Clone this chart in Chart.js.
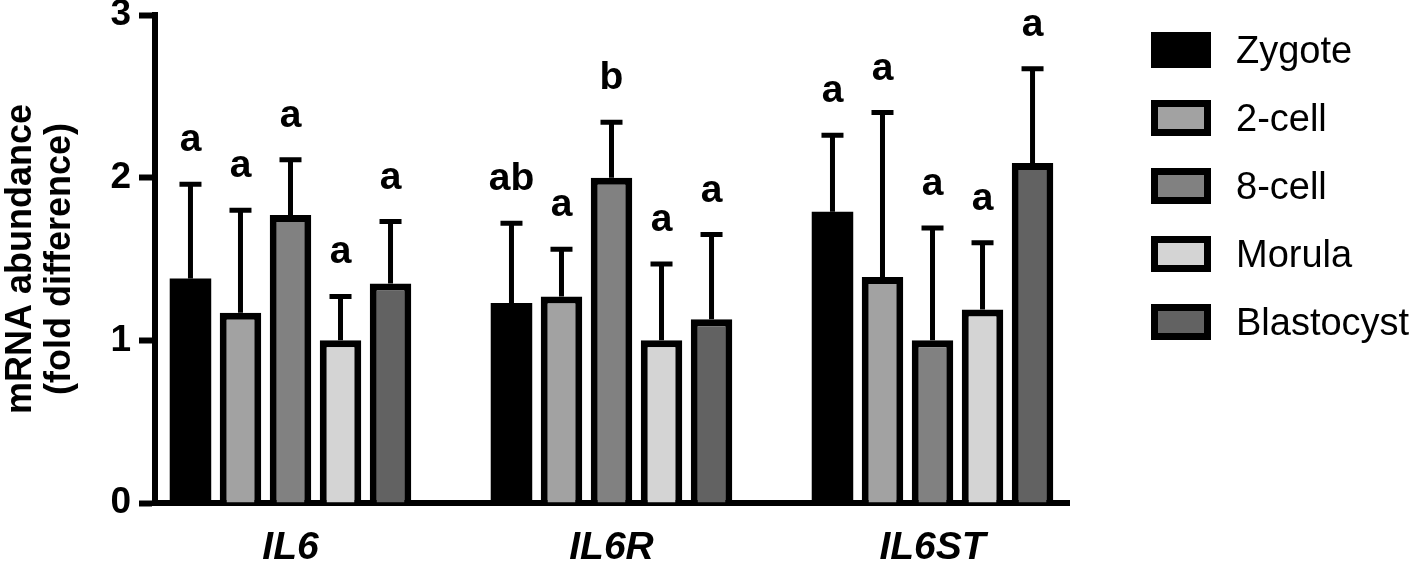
<!DOCTYPE html>
<html>
<head>
<meta charset="utf-8">
<title>IL6 family mRNA abundance</title>
<script src="https://cdn.jsdelivr.net/npm/chart.js@4.4.1/dist/chart.umd.min.js"></script>
<style>
  html, body { margin: 0; padding: 0; background: #fff; }
  #chart { display: block; }
</style>
</head>
<body>
<canvas id="chart" width="1418" height="565"></canvas>
<script>
// genes on the x axis, embryo stages as series
const genes = ['IL6', 'IL6R', 'IL6ST'];
const stages = ['Zygote', '2-cell', '8-cell', 'Morula', 'Blastocyst'];
const stageColors = ['#000000', '#a2a2a2', '#818181', '#d4d4d4', '#626262'];

// mean fold difference per gene
const zygote = [1.38, 1.23, 1.79];
const twoCell = [1.17, 1.27, 1.39];
const eightCell = [1.77, 2.00, 1.00];
const morula = [1.00, 1.00, 1.19];
const blastocyst = [1.35, 1.13, 2.09];

// upper error (SD) per gene
const zygoteErr = [0.58, 0.49, 0.47];
const twoCellErr = [0.63, 0.29, 1.01];
const eightCellErr = [0.34, 0.34, 0.69];
const morulaErr = [0.27, 0.47, 0.41];
const blastocystErr = [0.38, 0.52, 0.58];

// letters of significance
const zygoteSig = ['a', 'ab', 'a'];
const twoCellSig = ['a', 'a', 'a'];
const eightCellSig = ['a', 'b', 'a'];
const morulaSig = ['a', 'a', 'a'];
const blastocystSig = ['a', 'a', 'a'];

const yTicks = [0, 1, 2, 3];

const means = [zygote, twoCell, eightCell, morula, blastocyst];
const errs = [zygoteErr, twoCellErr, eightCellErr, morulaErr, blastocystErr];
const sigs = [zygoteSig, twoCellSig, eightCellSig, morulaSig, blastocystSig];

const FONT = '"Liberation Sans", Arial, Helvetica, sans-serif';
Chart.defaults.font.family = FONT;
Chart.defaults.color = '#000';

const datasets = stages.map((name, s) => ({
  label: name,
  data: means[s].map((v, i) => ({ x: i, y: v })),
  err: errs[s],
  sig: sigs[s],
  backgroundColor: stageColors[s],
  borderColor: '#000',
  // the black bar needs no frame, it would only leave a seam
  borderWidth: s === 0 ? 0 : 7,
  borderSkipped: 'start',
  categoryPercentage: 0.779,
  barPercentage: 0.83
}));

// error bars and letters, drawn from the y scale
const errorBars = {
  id: 'errorBars',
  afterDatasetsDraw(chart) {
    const ctx = chart.ctx;
    const y = chart.scales.y;
    ctx.save();
    chart.data.datasets.forEach((ds, di) => {
      const meta = chart.getDatasetMeta(di);
      meta.data.forEach((bar, i) => {
        const top = y.getPixelForValue(ds.data[i].y + ds.err[i]);
        ctx.strokeStyle = '#000';
        ctx.lineWidth = 5;
        ctx.lineCap = 'butt';
        ctx.beginPath();
        ctx.moveTo(bar.x, bar.y);
        ctx.lineTo(bar.x, top);
        ctx.moveTo(bar.x - 11, top);
        ctx.lineTo(bar.x + 11, top);
        ctx.stroke();
        ctx.fillStyle = '#000';
        ctx.font = 'bold 39px ' + FONT;
        ctx.textAlign = 'center';
        ctx.textBaseline = 'alphabetic';
        ctx.fillText(ds.sig[i], bar.x, top - 33);
      });
    });
    ctx.restore();
  }
};

// legend at the right, boxes with thick black frame
const sideLegend = {
  id: 'sideLegend',
  afterDraw(chart) {
    const ctx = chart.ctx;
    const x0 = chart.chartArea.right + 82;
    const y0 = chart.chartArea.top + 17;
    ctx.save();
    chart.data.datasets.forEach((ds, i) => {
      const y = y0 + i * 68;
      ctx.fillStyle = '#000';
      ctx.fillRect(x0, y, 60, 36);
      ctx.fillStyle = ds.backgroundColor;
      ctx.fillRect(x0 + 7, y + 7, 46, 22);
      ctx.fillStyle = '#000';
      ctx.font = '38px ' + FONT;
      ctx.textAlign = 'left';
      ctx.textBaseline = 'alphabetic';
      ctx.fillText(ds.label, x0 + 85, y + 31);
    });
    ctx.restore();
  }
};

new Chart(document.getElementById('chart'), {
  type: 'bar',
  data: { datasets },
  plugins: [errorBars, sideLegend],
  options: {
    responsive: false,
    animation: false,
    devicePixelRatio: 1,
    layout: { padding: { top: 15, right: 349, bottom: 0, left: 0 } },
    plugins: {
      legend: { display: false },
      tooltip: { enabled: false }
    },
    scales: {
      x: {
        type: 'linear',
        offset: false,
        min: -0.4221,
        max: 2.4252,
        afterBuildTicks(scale) {
          scale.ticks = genes.map((g, i) => ({ value: i }));
        },
        afterFit(scale) {
          scale.height = 62;
          scale.paddingLeft = 0;
          scale.paddingRight = 0;
        },
        grid: { display: false, drawTicks: false },
        border: { display: true, color: '#000', width: 6 },
        ticks: {
          autoSkip: false,
          maxRotation: 0,
          padding: 22,
          font: { size: 39, weight: 'bold', style: 'italic' },
          callback: (v) => genes[v]
        }
      },
      y: {
        min: 0,
        max: 3,
        afterBuildTicks(scale) {
          scale.ticks = yTicks.map(v => ({ value: v }));
        },
        afterFit(scale) {
          scale.width = 155;
          scale.paddingTop = 0;
          scale.paddingBottom = 0;
        },
        grid: {
          drawOnChartArea: false,
          drawTicks: true,
          tickLength: 16,
          tickWidth: 6,
          tickColor: '#000'
        },
        border: { display: true, color: '#000', width: 6 },
        ticks: {
          padding: 8,
          font: { size: 37, weight: 'bold' }
        },
        title: {
          display: true,
          text: ['mRNA abundance', '(fold difference)'],
          font: { size: 36, weight: 'bold', lineHeight: 1.08 },
          padding: { top: 2, bottom: 0 }
        }
      }
    }
  }
});
</script>
</body>
</html>
